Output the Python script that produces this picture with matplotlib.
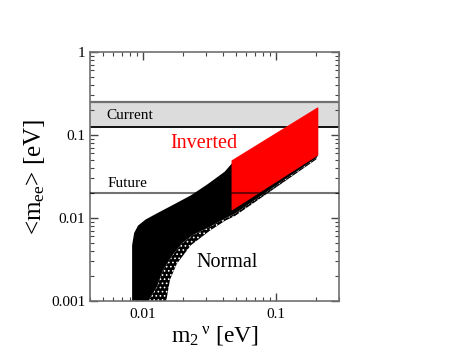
import numpy as np
import matplotlib
matplotlib.use('Agg')
import matplotlib.pyplot as plt

plt.rcParams['font.family'] = ['Liberation Serif', 'DejaVu Serif']
plt.rcParams['mathtext.fontset'] = 'custom'
plt.rcParams['mathtext.rm'] = 'Liberation Serif'
plt.rcParams['mathtext.it'] = 'Liberation Serif:italic'
plt.rcParams['hatch.linewidth'] = 0.7

# Normal hierarchy region (m2 [eV], <m_ee> [eV])
normal_upper_x = [0.0083, 0.0083, 0.0086, 0.0092, 0.0105, 0.0128, 0.0173, 0.0232, 0.0309, 0.0413, 0.0469, 0.208]
normal_upper_y = [0.001, 0.0047, 0.0066, 0.0081, 0.0096, 0.0114, 0.0147, 0.0189, 0.0257, 0.0361, 0.0456, 0.210]
# solid part of the lower edge
normal_lower_x = [0.0110, 0.0128, 0.0142, 0.0168, 0.0198, 0.0236, 0.0318, 0.0413, 0.0490, 0.203, 0.208]
normal_lower_y = [0.001, 0.0015, 0.00236, 0.0036, 0.0050, 0.0062, 0.0078, 0.0098, 0.0112, 0.0530, 0.0565]
# outer edge of the scattered points
normal_fringe_x = [0.0150, 0.0160, 0.0180, 0.0230, 0.0322, 0.0418, 0.0495, 0.203]
normal_fringe_y = [0.001, 0.0018, 0.0028, 0.0047, 0.0071, 0.0093, 0.0106, 0.051]

# Inverted hierarchy region
inv_x = [0.0469, 0.208, 0.208, 0.0469]
inv_y = [0.049, 0.213, 0.0574, 0.0125]

# experimental bounds
current_band = [0.125, 0.25]
future_bound = 0.02

fig = plt.figure(figsize=(4.63, 3.58), dpi=100)
ax = fig.add_axes([0.1944, 0.1592, 0.5378, 0.6955])

ax.axhspan(current_band[0], current_band[1], color='#dcdcdc', zorder=0, lw=0)
ax.axhline(current_band[1], color='#707070', lw=1.6, zorder=1)
ax.axhline(current_band[0], color='black', lw=1.3, zorder=1)

# scattered fringe below the solid band: black with white specks
fx = normal_lower_x[:-1] + normal_fringe_x[::-1]
fy = normal_lower_y[:-1] + normal_fringe_y[::-1]
ax.fill(fx, fy, facecolor='black', edgecolor='white', hatch='....', lw=0, zorder=2)

px = normal_upper_x + normal_lower_x[::-1]
py = normal_upper_y + normal_lower_y[::-1]
ax.fill(px, py, color='black', lw=0, zorder=2)
ax.fill(inv_x, inv_y, color='red', lw=0.6, ec='red', zorder=3)

# darkening line (multiplies colours underneath)
ax.axhline(future_bound, color='black', alpha=0.55, lw=1.5, zorder=4)

ax.text(0.0053, 0.174, 'Current', fontsize=11, va='center', ha='left')
ax.text(0.0054, 0.0264, 'Future', fontsize=11, va='center', ha='left')
ax.text(0.0162, 0.078, 'Inverted', fontsize=14.5, color='red', va='center', ha='left')
ax.text(0.0254, 0.00295, 'Normal', fontsize=14.5, va='center', ha='left')

ax.set_xscale('log')
ax.set_yscale('log')
ax.set_xlim(0.004, 0.3)
ax.set_ylim(0.001, 1)
ax.set_xticks([0.01, 0.1])
ax.set_xticklabels(['0.01', '0.1'])
ax.set_yticks([0.001, 0.01, 0.1, 1])
ax.set_yticklabels(['0.001', '0.01', '0.1', '1'])
ax.tick_params(which='both', direction='in', top=True, right=True, colors='#444444', labelcolor='black', labelsize=11)
ax.tick_params(which='major', length=6, width=1)
ax.tick_params(which='minor', length=3, width=0.8)
ax.tick_params(axis='x', pad=5)
for s in ax.spines.values():
    s.set_color('#707070')
    s.set_linewidth(1.2)

ax.set_xlabel(r'm$_{2}\,{}^{\mathrm{ν}}$ [eV]', fontsize=17, labelpad=2)
ax.set_ylabel(r'<m$_{\mathrm{ee}}$> [eV]', fontsize=18, labelpad=3)

fig.savefig('out.png', dpi=100)
